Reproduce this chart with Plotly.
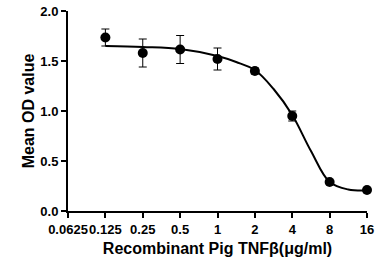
import math
import plotly.graph_objects as go

# Measured points
conc = [0.125, 0.25, 0.5, 1, 2, 4, 8, 16]
mean_od = [1.735, 1.58, 1.615, 1.52, 1.40, 0.95, 0.29, 0.21]
sd = [0.085, 0.14, 0.14, 0.11, 0.03, 0.05, 0.01, 0.01]

# Fitted curve
curve_x = [0.125, 0.25, 0.5, 1, 1.414, 2, 2.83, 4, 5.66, 8, 11.3, 16]
curve_y = [1.65, 1.64, 1.62, 1.55, 1.49, 1.41, 1.22, 0.96, 0.60, 0.29, 0.215, 0.205]

xticks = [0.0625, 0.125, 0.25, 0.5, 1, 2, 4, 8, 16]
xticktext = ["0.0625", "0.125", "0.25", "0.5", "1", "2", "4", "8", "16"]
yticks = [0, 0.5, 1.0, 1.5, 2.0]

FONT = "Liberation Sans, Arial, sans-serif"

fig = go.Figure()
fig.add_trace(go.Scatter(
    x=curve_x, y=curve_y, mode="lines",
    line=dict(color="black", width=2, shape="spline", smoothing=1.0),
    hoverinfo="skip", showlegend=False, cliponaxis=False))
fig.add_trace(go.Scatter(
    x=conc, y=mean_od, mode="markers",
    marker=dict(color="black", size=10, symbol="circle"),
    error_y=dict(type="data", array=sd, visible=True, color="black",
                 thickness=1, width=4),
    showlegend=False, cliponaxis=False))

xr = [math.log10(xticks[0]) - 1e-4, math.log10(xticks[-1]) + 1e-4]

fig.update_layout(
    width=382, height=266,
    margin=dict(l=68, r=15, t=11, b=55),
    paper_bgcolor="white", plot_bgcolor="white",
    font=dict(family=FONT, color="black", size=13, weight="bold"),
)
fig.update_xaxes(
    type="log", range=xr,
    tickmode="array", tickvals=xticks, ticktext=xticktext,
    tickangle=0, automargin=False,
    showline=True, linecolor="black", linewidth=2,
    ticks="outside", ticklen=5, tickwidth=2, tickcolor="black",
    showgrid=False, zeroline=False,
    tickfont=dict(family=FONT, size=13, color="black", weight="bold"),
    title=dict(text="Recombinant Pig TNFβ(μg/ml)", standoff=7,
               font=dict(family=FONT, size=16, color="black", weight="bold")),
)
fig.update_yaxes(
    range=[0, 2.0], automargin=False,
    tickmode="array", tickvals=yticks, tickformat=".1f",
    showline=True, linecolor="black", linewidth=2,
    ticks="outside", ticklen=5, tickwidth=2, tickcolor="black",
    showgrid=False, zeroline=False,
    tickfont=dict(family=FONT, size=13, color="black", weight="bold"),
    title=dict(text="Mean OD value", standoff=2,
               font=dict(family=FONT, size=16, color="black", weight="bold")),
)

fig.write_html("out.html")
